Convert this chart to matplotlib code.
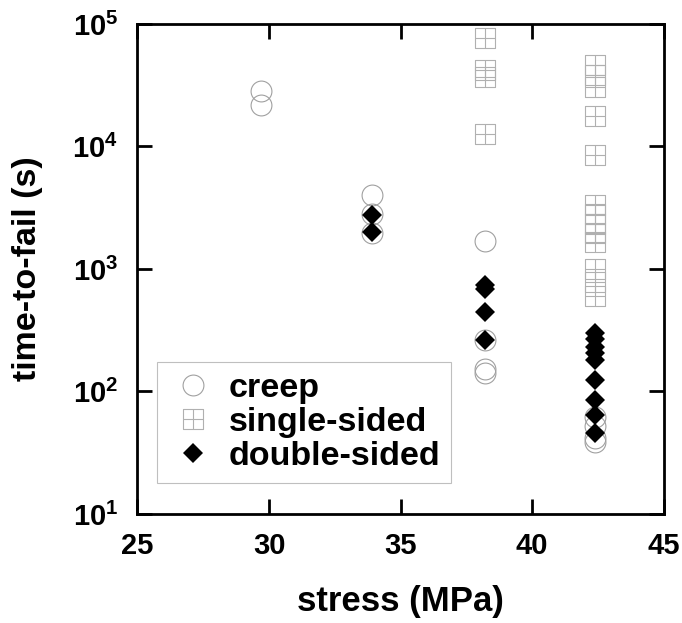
import matplotlib
matplotlib.use('Agg')
import matplotlib.pyplot as plt
from matplotlib.path import Path

plt.rcParams['font.family'] = ['Liberation Sans', 'DejaVu Sans']
plt.rcParams['font.weight'] = 'bold'
plt.rcParams['mathtext.fontset'] = 'custom'
plt.rcParams['mathtext.rm'] = 'Liberation Sans:bold'
plt.rcParams['mathtext.it'] = 'Liberation Sans:bold'
plt.rcParams['mathtext.bf'] = 'Liberation Sans:bold'

# data
creep_x = [29.7, 29.7, 33.9, 33.9, 33.9, 38.2, 38.2, 38.2, 38.2, 42.4, 42.4, 42.4, 42.4]
creep_y = [28500, 22000, 4000, 2800, 1950, 1700, 263, 152, 142, 62, 52, 42, 39]

single_x = [38.2, 38.2, 38.2, 38.2,
            42.4, 42.4, 42.4, 42.4, 42.4, 42.4, 42.4, 42.4, 42.4, 42.4, 42.4, 42.4, 42.4]
single_y = [77000, 42000, 37000, 12700,
            46500, 38500, 30500, 17900, 8600, 3350, 2800, 2350, 1950, 1650, 1000, 780, 600]

double_x = [33.9, 33.9, 38.2, 38.2, 38.2, 38.2,
            42.4, 42.4, 42.4, 42.4, 42.4, 42.4, 42.4, 42.4, 42.4]
double_y = [2750, 2000, 740, 680, 444, 263,
            302, 267, 232, 205, 181, 124, 86, 64, 46]

xticks = [25, 30, 35, 40, 45]
yticks = [1e1, 1e2, 1e3, 1e4, 1e5]
ytick_labels = [r'$10^{1}$', r'$10^{2}$', r'$10^{3}$', r'$10^{4}$', r'$10^{5}$']

# square with a cross inside
box_cross = Path([(-1, -1), (1, -1), (1, 1), (-1, 1), (-1, -1),
                  (0, -1), (0, 1), (-1, 0), (1, 0)],
                 [Path.MOVETO, Path.LINETO, Path.LINETO, Path.LINETO, Path.CLOSEPOLY,
                  Path.MOVETO, Path.LINETO, Path.MOVETO, Path.LINETO])

fig = plt.figure(figsize=(6.82, 6.23), dpi=100)
ax = fig.add_axes([0.2016, 0.175, 0.7716, 0.7865])

ax.plot(creep_x, creep_y, 'o', ms=15, mfc='none', mec='#a0a0a0', mew=0.8,
        label='creep')
ax.plot(single_x, single_y, ls='none', marker=box_cross, ms=15, mfc='none',
        mec='#b0b0b0', mew=0.8, label='single-sided')
ax.plot(double_x, double_y, 'D', ms=10.5, color='black', mec='black', mew=0,
        label='double-sided')

ax.set_yscale('log')
ax.set_xlim(25, 45)
ax.set_ylim(1e1, 1e5)
ax.set_xticks(xticks)
ax.set_yticks(yticks)
ax.set_yticklabels(ytick_labels)
ax.minorticks_off()
ax.tick_params(direction='in', length=11, width=2, labelsize=21,
               top=True, right=True)
ax.tick_params(axis='x', pad=13)
ax.tick_params(axis='y', pad=14)
for s in ax.spines.values():
    s.set_linewidth(2)

ax.set_xlabel('stress (MPa)', fontsize=25, fontweight='bold', labelpad=18)
ax.set_ylabel('time-to-fail (s)', fontsize=24.5, fontweight='bold', labelpad=21)

leg = ax.legend(loc='lower left', bbox_to_anchor=(0.0365, 0.064), borderaxespad=0,
                fontsize=24.5, frameon=True, fancybox=False, edgecolor='#b0b0b0',
                handlelength=1.5, handletextpad=0.3, labelspacing=0.08,
                borderpad=0.32)
leg.get_frame().set_linewidth(0.8)

fig.savefig('out.png', dpi=100)
